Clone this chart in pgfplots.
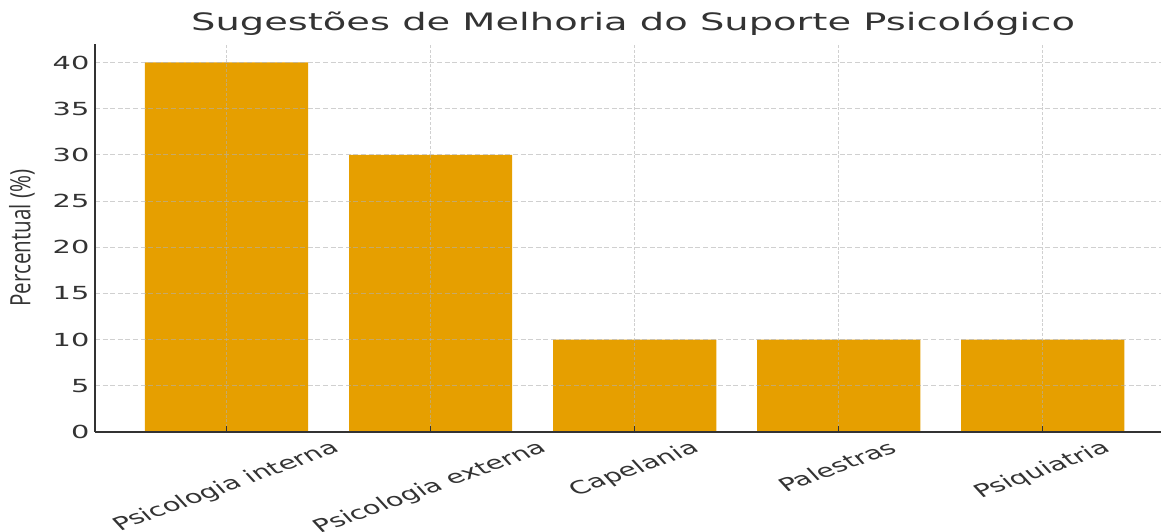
\documentclass[border=0pt]{standalone}
\usepackage{pgfplots}
\pgfplotsset{compat=1.18}
\usepackage{fontspec}
\setmainfont{DejaVu Sans}
\newfontfamily\labfont{Open Sans}
\definecolor{barc}{HTML}{E69F00}
\definecolor{txt}{HTML}{333333}
\definecolor{gridc}{HTML}{B0B0B0}

\newlength\xlw
\newcommand{\xl}[1]{%
 \settowidth{\xlw}{#1}%
 \pgfmathsetmacro\xlD{8 + (\xlw*0.5 + 17.1*0.8660)/2}%
 \pgfmathsetmacro\xlA{-\xlD*0.5 - \xlw/2}%
 \pgfmathsetmacro\xlB{-\xlD*0.8660 - 4.7}%
 \makebox[0pt][l]{\hspace*{\xlA pt}\raisebox{\xlB pt}[0pt][0pt]{#1}}}

\begin{document}
\begin{tikzpicture}
\begin{axis}[
 at={(0,0)}, anchor=south west,
 scale only axis, width=1066pt, height=388pt,
 xmin=-0.645, xmax=4.58, ymin=0, ymax=42,
 axis x line*=bottom, axis y line*=left,
 axis line style={-, draw=txt, line width=1.3pt},
 xtick={0,1,2,3,4},
 xticklabels={\xl{Psicologia interna},\xl{Psicologia externa},\xl{Capelania},\xl{Palestras},\xl{Psiquiatria}},
 ytick={0,5,...,40},
 /pgf/number format/assume math mode=true,
 tick align=inside,
 major tick length=6pt,
 x tick style={draw=txt, line width=1.2pt},
 y tick style={draw=none},
 grid=major,
 x grid style={draw=gridc, opacity=0.6, line width=0.9pt, dash pattern=on 3pt off 1.8pt},
 y grid style={draw=gridc, opacity=0.6, line width=0.9pt, dash pattern=on 5pt off 2.6pt},
 axis on top,
 xticklabel style={font=\fontsize{18}{22}\selectfont, text=txt, anchor=center, inner sep=0pt, xscale=1.6, rotate=30},
 yticklabel style={font=\fontsize{18}{22}\selectfont, text=txt, xscale=1.6},
 title={Sugestões de Melhoria do Suporte Psicológico},
 title style={font=\fontsize{24}{28}\selectfont, text=txt, at={(axis description cs:0.5047,1.0206)}, anchor=base, xscale=1.6},
 ylabel={Percentual (\%)},
 ylabel style={font=\labfont\fontsize{20.6}{24}\selectfont, text=txt, at={(axis description cs:-0.0685,0.5)}, anchor=center, yscale=1.36},
]
\addplot[ybar, bar width=0.8, fill=barc, draw=none] coordinates {(0,40) (1,30) (2,10) (3,10) (4,10)};
\end{axis}
\pgfresetboundingbox
\path[use as bounding box] (-95pt,-100pt) rectangle (1066pt,432pt);
\end{tikzpicture}
\end{document}
